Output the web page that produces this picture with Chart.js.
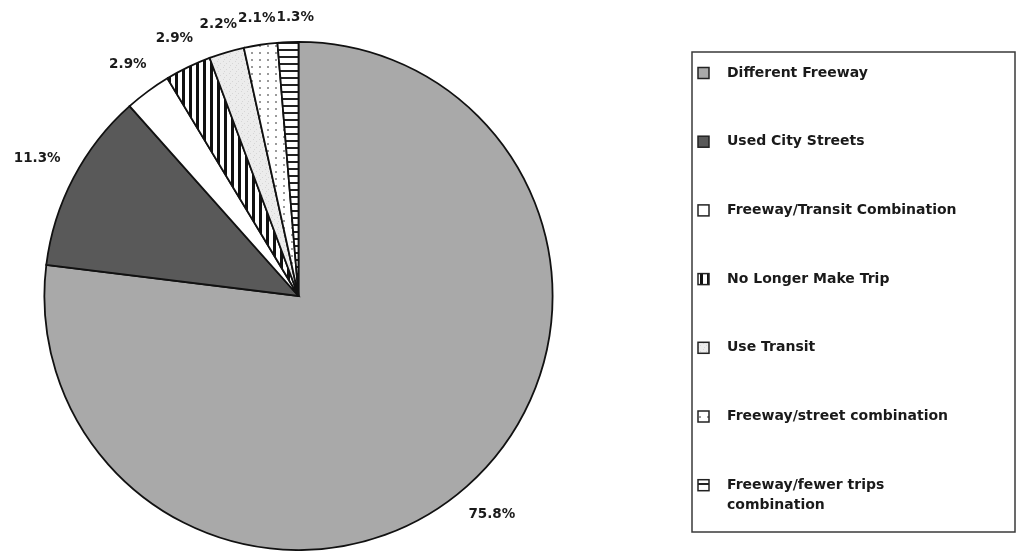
<!DOCTYPE html>
<html>
<head>
<meta charset="utf-8">
<script src="https://cdn.jsdelivr.net/npm/chart.js@4.4.1/dist/chart.umd.min.js"></script>
<style>
  html, body { margin: 0; padding: 0; background: #ffffff; }
  #wrap { width: 1023px; height: 551px; position: relative; }
</style>
</head>
<body>
<div id="wrap"><canvas id="pie" width="1023" height="551"></canvas></div>
<script>
// Share of respondents by alternative chosen
const categories = [
  'Different Freeway',
  'Used City Streets',
  'Freeway/Transit Combination',
  'No Longer Make Trip',
  'Use Transit',
  'Freeway/street combination',
  ['Freeway/fewer trips', 'combination']
];
const shares = [75.8, 11.3, 2.9, 2.9, 2.2, 2.1, 1.3];

// Fill pattern kinds for each slice, in slice order
const fillKinds = ['gray', 'dark', 'white', 'vstripe', 'speckle', 'dots', 'hstripe'];

function tile(w, h, paint) {
  const c = document.createElement('canvas');
  c.width = w; c.height = h;
  const g = c.getContext('2d');
  paint(g, w, h);
  return c;
}

function makeFill(ctx, kind) {
  switch (kind) {
    case 'gray': return '#a9a9a9';
    case 'dark': return '#595959';
    case 'white': return '#ffffff';
    case 'vstripe':
      return ctx.createPattern(tile(7, 7, (g, w, h) => {
        g.fillStyle = '#ffffff'; g.fillRect(0, 0, w, h);
        g.fillStyle = '#111111'; g.fillRect(0, 0, 3, h);
      }), 'repeat');
    case 'speckle':
      return ctx.createPattern(tile(6, 6, (g, w, h) => {
        g.fillStyle = '#ececec'; g.fillRect(0, 0, w, h);
        g.fillStyle = '#d6d6d6';
        g.fillRect(1, 1, 1, 1); g.fillRect(4, 3, 1, 1); g.fillRect(2, 5, 1, 1);
      }), 'repeat');
    case 'dots':
      return ctx.createPattern(tile(8, 7, (g, w, h) => {
        g.fillStyle = '#ffffff'; g.fillRect(0, 0, w, h);
        g.fillStyle = '#9a9a9a'; g.fillRect(3, 3, 2, 2);
      }), 'repeat');
    case 'hstripe':
      return ctx.createPattern(tile(7, 7, (g, w, h) => {
        g.fillStyle = '#ffffff'; g.fillRect(0, 0, w, h);
        g.fillStyle = '#222222'; g.fillRect(0, 0, w, 2);
      }), 'repeat');
  }
}

const canvas = document.getElementById('pie');
const ctx = canvas.getContext('2d');
const fills = fillKinds.map(k => makeFill(ctx, k));

// Percentage labels placed just outside each slice; the gap accounts for
// the label's own box so wide labels at the sides sit farther out.
// Neighbouring labels that would collide are pushed apart sideways.
const sliceLabels = {
  id: 'sliceLabels',
  afterDatasetsDraw(chart) {
    const c = chart.ctx;
    const meta = chart.getDatasetMeta(0);
    c.save();
    c.font = 'bold 13.5px "DejaVu Sans", Arial, sans-serif';
    c.fillStyle = '#1a1a1a';
    c.textAlign = 'center';
    c.textBaseline = 'middle';
    const halfH = 7;
    const placed = meta.data.map((arc, i) => {
      const p = arc.getProps(['x', 'y', 'startAngle', 'endAngle', 'outerRadius'], true);
      const mid = (p.startAngle + p.endAngle) / 2;
      const text = shares[i].toFixed(1) + '%';
      const w = c.measureText(text).width;
      const ux = Math.cos(mid), uy = Math.sin(mid);
      const r = p.outerRadius + 17 + Math.abs(ux) * w / 2 + Math.abs(uy) * halfH;
      return { text, w, x: p.x + ux * r, y: p.y + uy * r };
    });
    for (let i = 1; i < placed.length; i++) {
      const a = placed[i - 1], b = placed[i];
      if (Math.abs(a.y - b.y) < halfH * 2) {
        const need = (a.w + b.w) / 2 + 1;
        if (b.x > a.x && b.x - a.x < need) b.x = a.x + need;
      }
    }
    placed.forEach(l => c.fillText(l.text, l.x, l.y));
    c.restore();
  }
};

// Boxed legend on the right
const boxLegend = {
  id: 'boxLegend',
  afterDraw(chart) {
    const c = chart.ctx;
    const box = { x: 692, y: 52, w: 323, h: 480 };
    c.save();
    c.strokeStyle = '#3a3a3a';
    c.lineWidth = 1.5;
    c.strokeRect(box.x, box.y, box.w, box.h);
    c.font = 'bold 14px "DejaVu Sans", Arial, sans-serif';
    c.textBaseline = 'middle';
    c.textAlign = 'left';
    const step = 68.7;
    categories.forEach((label, i) => {
      const y = box.y + 21 + i * step;
      c.fillStyle = fills[i];
      c.fillRect(698, y - 5.5, 11, 11);
      c.strokeStyle = '#222222';
      c.lineWidth = 1.5;
      c.strokeRect(698, y - 5.5, 11, 11);
      c.fillStyle = '#1a1a1a';
      const lines = Array.isArray(label) ? label : [label];
      lines.forEach((ln, j) => c.fillText(ln, 727, y + j * 20));
    });
    c.restore();
  }
};

new Chart(ctx, {
  type: 'pie',
  data: {
    labels: categories,
    datasets: [{
      data: shares,
      backgroundColor: fills,
      borderColor: '#111111',
      borderWidth: 1.8,
      borderJoinStyle: 'miter'
    }]
  },
  options: {
    responsive: false,
    animation: false,
    devicePixelRatio: 1,
    layout: { padding: { left: 43, right: 469, top: 41, bottom: 0 } },
    plugins: {
      legend: { display: false },
      tooltip: { enabled: false }
    }
  },
  plugins: [sliceLabels, boxLegend]
});
</script>
</body>
</html>
